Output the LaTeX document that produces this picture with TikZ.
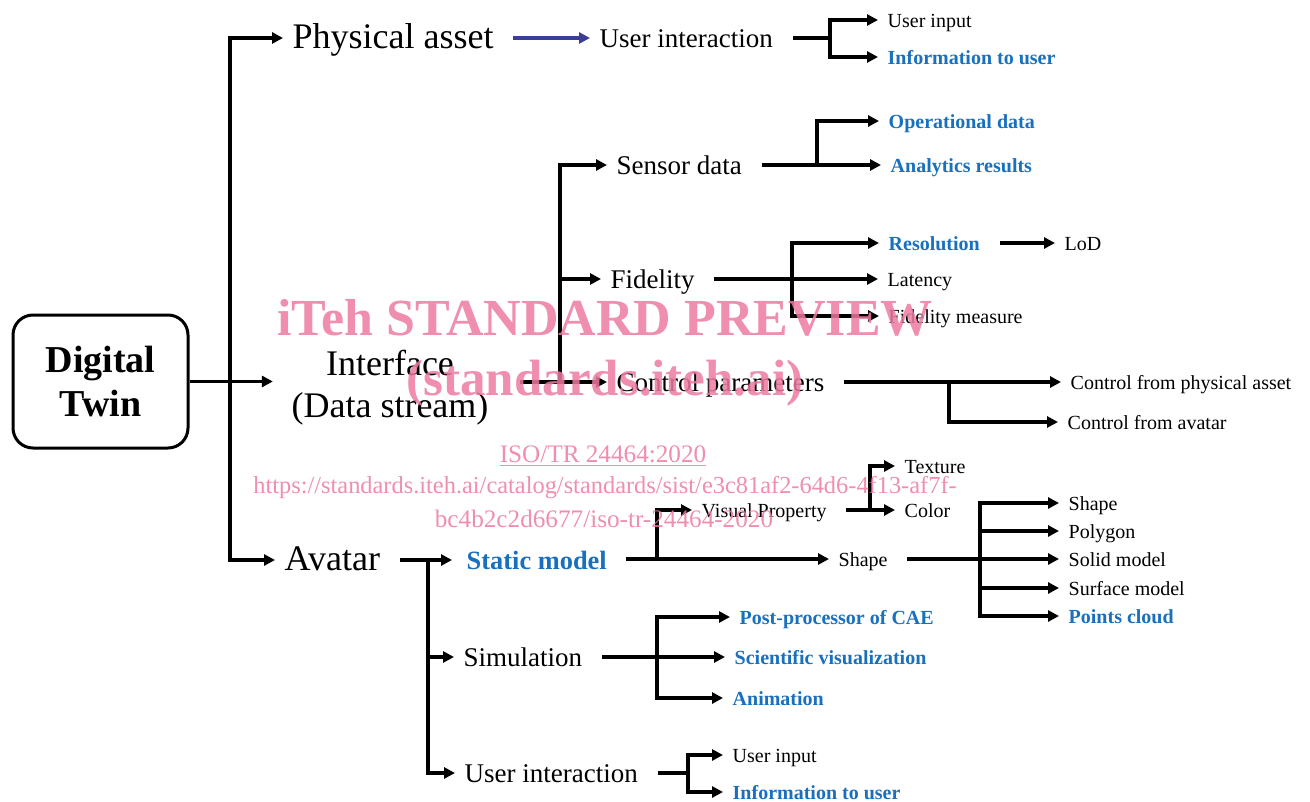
\documentclass[tikz,border=0pt]{standalone}
\usepackage{fontspec}
\setmainfont{Liberation Serif}
\usetikzlibrary{
	arrows.meta,
	calc,
	positioning
}
\definecolor{dtBlue}{RGB}{24,112,190}
\definecolor{dtNavy}{RGB}{58,62,148}
\definecolor{dtPink}{RGB}{236,122,160}
\tikzset{every path/.append style={line width=1.7pt}}
\tikzset{every path/.append style={>={Triangle[length=5.5pt,width=5.5pt]}}}
\tikzset{
	lbl/.style={anchor=west,inner xsep=4pt,inner ysep=1pt,text height=0.76em,text depth=0pt},
	big/.style={lbl,text height=1.04em,font=\fontsize{18}{21}\selectfont},
	mid/.style={lbl,text height=0.95em,font=\fontsize{13.5}{16}\selectfont},
	midblue/.style={lbl,text height=0.95em,text=dtBlue,font=\fontsize{13.2}{16}\selectfont\bfseries},
	small/.style={lbl,font=\fontsize{10}{12}\selectfont},
	smallblue/.style={lbl,text=dtBlue,font=\fontsize{10}{12}\selectfont\bfseries},
	root/.style={draw,rounded corners=10pt,line width=1.5pt,minimum width=87.5pt,minimum height=66.5pt,align=center,font=\fontsize{19}{21.5}\selectfont\bfseries},
	feed/.style={shorten <=5pt},
	wm/.style={text=dtPink,text opacity=0.85,inner sep=0pt}
}
\newcommand{\tikzLabel}[4][small]{\node (#3) at #2 [#1]{#4};}

\begin{document}
\begin{tikzpicture}[x=0.5pt,y=-0.5pt]
	\useasboundingbox (0,0) rectangle (1310,802);

	\node[root] (dt) at (100.5,381.5) {Digital\\Twin};
	\node[font=\fontsize{18}{21}\selectfont,align=center,inner xsep=4pt] (iface) at (390,388) {Interface\\(Data stream)};

	\tikzLabel[big]{(283,38)}{pa}{Physical asset}
	\tikzLabel[mid]{(590,38)}{ui}{User interaction}
	\tikzLabel{(878,20)}{uiIn}{User input}
	\tikzLabel[smallblue]{(878,57)}{uiInfo}{Information to user}

	\tikzLabel[mid]{(607,165)}{sd}{Sensor data}
	\tikzLabel[smallblue]{(879,121)}{od}{Operational data}
	\tikzLabel[smallblue]{(881,165)}{ar}{Analytics results}

	\tikzLabel[mid]{(601,279)}{fid}{Fidelity}
	\tikzLabel[smallblue]{(879,243)}{res}{Resolution}
	\tikzLabel{(1055,243)}{lod}{LoD}
	\tikzLabel{(878,279)}{lat}{Latency}
	\tikzLabel{(879,316)}{fm}{Fidelity measure}

	\tikzLabel[mid]{(607,382)}{cp}{Control parameters}
	\tikzLabel{(1061,382)}{cpa}{Control from physical asset}
	\tikzLabel{(1058,422)}{cav}{Control from avatar}

	\tikzLabel[big]{(275,560)}{av}{Avatar}
	\tikzLabel[midblue]{(457,560)}{sm}{Static model}
	\tikzLabel{(692,510)}{vp}{Visual Property}
	\tikzLabel{(895,466)}{tex}{Texture}
	\tikzLabel{(895,510)}{col}{Color}
	\tikzLabel{(829,559)}{shp}{Shape}
	\tikzLabel{(1059,503)}{s1}{Shape}
	\tikzLabel{(1059,531)}{s2}{Polygon}
	\tikzLabel{(1059,559)}{s3}{Solid model}
	\tikzLabel{(1059,588)}{s4}{Surface model}
	\tikzLabel[smallblue]{(1059,616)}{s5}{Points cloud}

	\tikzLabel[mid]{(454,657)}{sim}{Simulation}
	\tikzLabel[smallblue]{(730,617)}{pp}{Post-processor of CAE}
	\tikzLabel[smallblue]{(725,657)}{sv}{Scientific visualization}
	\tikzLabel[smallblue]{(723,698)}{ani}{Animation}

	\tikzLabel[mid]{(455,773)}{ui2}{User interaction}
	\tikzLabel{(723,755)}{ui2In}{User input}
	\tikzLabel[smallblue]{(723,792)}{ui2Info}{Information to user}

	\coordinate (trunk) at (230,381.5);
	\coordinate (uiFork) at (830,38);
	\coordinate (ifFork) at (560,382);
	\coordinate (sdFork) at (817,165);
	\coordinate (fidFork) at (792,279);
	\coordinate (cpFork) at (949,382);
	\coordinate (avFork) at (428,560);
	\coordinate (smFork) at (657,559);
	\coordinate (vpFork) at (870,510);
	\coordinate (shpFork) at (980,559);
	\coordinate (simFork) at (657,657);
	\coordinate (ui2Fork) at (688,773);

	\draw[->,shorten >=4.5pt] (dt.east) -- (dt.east -| iface.west);
	\draw[->] (trunk) |- (pa.west);
	\draw[->] (trunk) |- (av.west);

	\draw[->,dtNavy,feed] (pa.east) -- (ui.west);
	\draw[feed] (ui.east) -- (uiFork);
	\draw[->] (uiFork) |- (uiIn.west);
	\draw[->] (uiFork) |- (uiInfo.west);

	\draw[->,shorten <=11pt] (iface.east |- cp.west) -- (cp.west);
	\draw[->] (ifFork) |- (sd.west);
	\draw[->] (ifFork) |- (fid.west);

	\draw[feed] (sd.east) -- (sdFork);
	\draw[->] (sdFork) |- (od.west);
	\draw[->] (sdFork) -- (ar.west);

	\draw[feed] (fid.east) -- (fidFork);
	\draw[->] (fidFork) |- (res.west);
	\draw[->] (fidFork) -- (lat.west);
	\draw[->] (fidFork) |- (fm.west);
	\draw[->,feed] (res.east) -- (lod.west);

	\draw[->,feed] (cp.east) -- (cpa.west);
	\draw[->] (cpFork) |- (cav.west);

	\draw[->,feed,shorten >=2.5pt] (av.east) -- (sm.west);
	\draw[->] (avFork) |- (sim.west);
	\draw[->] (avFork) |- (ui2.west);

	\draw[->,feed] (sm.east |- shp.west) -- (shp.west);
	\draw[->] (smFork) |- (vp.west);
	\draw[feed] (vp.east) -- (vpFork);
	\draw[->] (vpFork) |- (tex.west);
	\draw[->] (vpFork) -- (col.west);
	\draw[feed] (shp.east) -- (shpFork);
	\foreach \s in {s1,s2,s3,s4,s5}
		\draw[->] (shpFork) |- (\s.west);

	\draw[feed] (sim.east) -- (simFork);
	\foreach \s in {pp,sv,ani}
		\draw[->] (simFork) |- (\s.west);

	\draw[feed] (ui2.east) -- (ui2Fork);
	\draw[->] (ui2Fork) |- (ui2In.west);
	\draw[->] (ui2Fork) |- (ui2Info.west);

	\node[wm,font=\fontsize{26}{28}\selectfont\bfseries] (wm1) at (605,318) {iTeh STANDARD PREVIEW};
	\node[wm,font=\fontsize{25.5}{27}\selectfont\bfseries] (wm2) at (605,383) {(standards.iteh.ai)};
	\node[wm,font=\fontsize{12.6}{14}\selectfont] (wm3) at (603,456) {\underline{ISO/TR 24464:2020}};
	\node[wm,font=\fontsize{12.2}{14}\selectfont] (wm4) at (605,488) {https://standards.iteh.ai/catalog/standards/sist/e3c81af2-64d6-4f13-af7f-};
	\node[wm,font=\fontsize{12.6}{14}\selectfont] (wm5) at (604,519) {bc4b2c2d6677/iso-tr-24464-2020};
\end{tikzpicture}
\end{document}
